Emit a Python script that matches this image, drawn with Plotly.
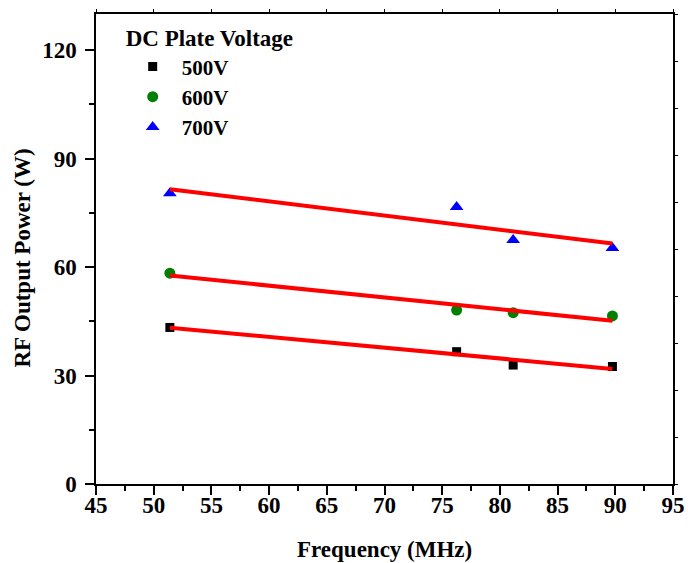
import numpy as np
import plotly.graph_objects as go

# Measured RF output power vs frequency for three DC plate voltages
freq_500 = [51.4, 76.25, 81.15, 89.75]
power_500 = [43.3, 36.6, 32.9, 32.5]

freq_600 = [51.4, 76.25, 81.15, 89.75]
power_600 = [58.3, 48.1, 47.4, 46.5]

freq_700 = [51.4, 76.25, 81.15, 89.75]
power_700 = [80.4, 76.6, 67.5, 65.3]

series_names = ["500V", "600V", "700V"]
series_colors = ["#000000", "#008000", "#0000FF"]
series_symbols = ["square", "circle", "triangle-up"]
series_sizes = [9, 11, 12]

x_ticks = list(range(45, 96, 5))
y_ticks = [0, 30, 60, 90, 120]

FONT = "Liberation Serif"
series = [(freq_500, power_500), (freq_600, power_600), (freq_700, power_700)]

fig = go.Figure()

# Data points
for (fx, py), name, col, sym, sz in zip(series, series_names, series_colors,
                                        series_symbols, series_sizes):
    fig.add_trace(go.Scatter(
        x=fx, y=py, mode="markers", name=name,
        marker=dict(symbol=sym, color=col, size=sz, line=dict(width=0)),
    ))

# Least-squares linear fits, drawn over the points
for fx, py in series:
    slope, intercept = np.polyfit(fx, py, 1)
    xs = np.array([min(fx), max(fx)])
    fig.add_trace(go.Scatter(
        x=xs, y=slope * xs + intercept, mode="lines", showlegend=False,
        line=dict(color="#FF0000", width=4), hoverinfo="skip",
    ))

# Invisible trace that carries the top and right frame axes
fig.add_trace(go.Scatter(x=[45], y=[0], xaxis="x2", yaxis="y2", mode="markers",
                         marker=dict(opacity=0), showlegend=False, hoverinfo="skip"))

tick_font = dict(family=FONT, size=23, color="black", weight="bold")
label_font = dict(family=FONT, size=23, color="black", weight="bold")

fig.update_layout(
    width=688, height=563,
    margin=dict(l=96, r=15, t=14, b=79, autoexpand=False),
    paper_bgcolor="white", plot_bgcolor="white",
    font=dict(family=FONT, color="black"),
    xaxis=dict(
        range=[45, 95], tickvals=x_ticks, ticktext=[str(v) for v in x_ticks],
        showgrid=False, zeroline=False, showline=True, linecolor="black", linewidth=1.5,
        ticks="outside", ticklen=9, tickwidth=1.5, tickcolor="black",
        minor=dict(dtick=2.5, tick0=45, ticks="outside", ticklen=5, tickwidth=1.5, tickcolor="black"),
        tickfont=tick_font, ticklabelstandoff=-9, automargin=False,
    ),
    yaxis=dict(
        range=[0, 130], tickvals=y_ticks, ticktext=[str(v) for v in y_ticks],
        showgrid=False, zeroline=False, showline=True, linecolor="black", linewidth=1.5,
        ticks="outside", ticklen=9, tickwidth=1.5, tickcolor="black",
        minor=dict(dtick=15, tick0=0, ticks="outside", ticklen=5, tickwidth=1.5, tickcolor="black"),
        tickfont=tick_font, ticklabelstandoff=4, automargin=False,
    ),
    xaxis2=dict(
        overlaying="x", side="top", range=[45, 95], dtick=5, tick0=45,
        showgrid=False, zeroline=False, showline=True, linecolor="black", linewidth=1.5,
        ticks="outside", ticklen=3, tickwidth=1, tickcolor="black", showticklabels=False,
        automargin=False,
    ),
    yaxis2=dict(
        overlaying="y", side="right", range=[0, 10], dtick=1, tick0=0,
        showgrid=False, zeroline=False, showline=True, linecolor="black", linewidth=1.5,
        ticks="outside", ticklen=3, tickwidth=1, tickcolor="black", showticklabels=False,
        automargin=False,
    ),
    legend=dict(
        x=0.048, y=0.995, xanchor="left", yanchor="top",
        bgcolor="rgba(0,0,0,0)", borderwidth=0,
        font=dict(family=FONT, size=21, color="black", weight="bold"),
        title=dict(text="DC Plate Voltage", font=label_font),
        itemwidth=48,
    ),
    annotations=[
        dict(text="Frequency (MHz)", xref="paper", yref="paper", x=0.5, y=-0.139,
             xanchor="center", yanchor="middle", showarrow=False, font=label_font),
        dict(text="RF Output Power (W)", xref="paper", yref="paper", x=-0.128, y=0.48,
             xanchor="center", yanchor="middle", textangle=-90, showarrow=False,
             font=label_font),
    ],
)

fig.write_html("out.html")
